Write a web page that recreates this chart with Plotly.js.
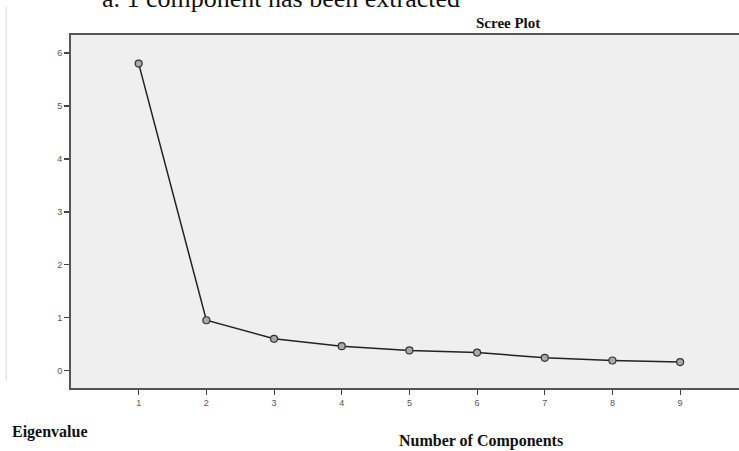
<!DOCTYPE html>
<html><head><meta charset="utf-8">
<script src="https://cdn.plot.ly/plotly-3.0.1.min.js"></script>
<style>body{margin:0;padding:0;background:#fff}#chart{width:739px;height:451px}</style>
</head><body><div id="chart"></div>
<script>
const components = [1, 2, 3, 4, 5, 6, 7, 8, 9];
const eigenvalues = [5.8, 0.95, 0.6, 0.46, 0.38, 0.34, 0.24, 0.19, 0.16];
const xTicks = [1, 2, 3, 4, 5, 6, 7, 8, 9];
const yTicks = [0, 1, 2, 3, 4, 5, 6];

const trace = {
  x: components, y: eigenvalues, type: 'scatter', mode: 'lines+markers',
  line: {color: '#222', width: 1.5},
  marker: {symbol: 'circle', size: 7, color: '#aaa', line: {color: '#333', width: 1.2}},
  hoverinfo: 'skip'
};
const layout = {
  width: 739, height: 451,
  margin: {l: 71, r: 0, t: 35, b: 63},
  paper_bgcolor: '#fff', plot_bgcolor: '#efefef',
  showlegend: false,
  xaxis: {range: [0, 9.87], tickvals: xTicks, ticktext: xTicks.map(String),
    showgrid: false, zeroline: false, showline: true, linecolor: '#555', linewidth: 2,
    mirror: true, ticks: 'outside', ticklen: 5, tickwidth: 1, tickcolor: '#444',
    tickfont: {family: 'Liberation Sans, Arial', size: 9, color: '#555'}},
  yaxis: {range: [-0.33, 6.34], tickvals: yTicks, ticktext: yTicks.map(String),
    showgrid: false, zeroline: false, showline: true, linecolor: '#555', linewidth: 2,
    ticks: 'outside', ticklen: 5, tickwidth: 1.5, tickcolor: '#444',
    tickfont: {family: 'Liberation Sans, Arial', size: 9, color: '#555'}},
  shapes: [
    {type: 'line', xref: 'paper', yref: 'paper', x0: -0.097, x1: -0.097, y0: 0.02, y1: 1.08,
     line: {color: '#ddd', width: 1}}
  ],
  annotations: [
    {text: 'a. 1 component has been extracted', xref: 'paper', yref: 'paper',
     x: 0.043, y: 1.058, xanchor: 'left', yanchor: 'bottom', showarrow: false,
     font: {family: 'Liberation Serif', size: 26, color: '#111'}},
    {text: '<b>Scree Plot</b>', xref: 'paper', yref: 'paper', x: 0.654, y: 1.005,
     xanchor: 'center', yanchor: 'bottom', showarrow: false,
     font: {family: 'Liberation Serif', size: 15, color: '#111'}},
    {text: '<b>Eigenvalue</b>', xref: 'paper', yref: 'paper', x: -0.092, y: -0.126,
     xanchor: 'left', yanchor: 'middle', showarrow: false,
     font: {family: 'Liberation Serif', size: 16, color: '#111'}},
    {text: '<b>Number of Components</b>', xref: 'paper', yref: 'paper', x: 0.614, y: -0.149,
     xanchor: 'center', yanchor: 'middle', showarrow: false,
     font: {family: 'Liberation Serif', size: 16, color: '#111'}}
  ]
};
Plotly.newPlot('chart', [trace], layout, {displayModeBar: false, staticPlot: true});
</script></body></html>
